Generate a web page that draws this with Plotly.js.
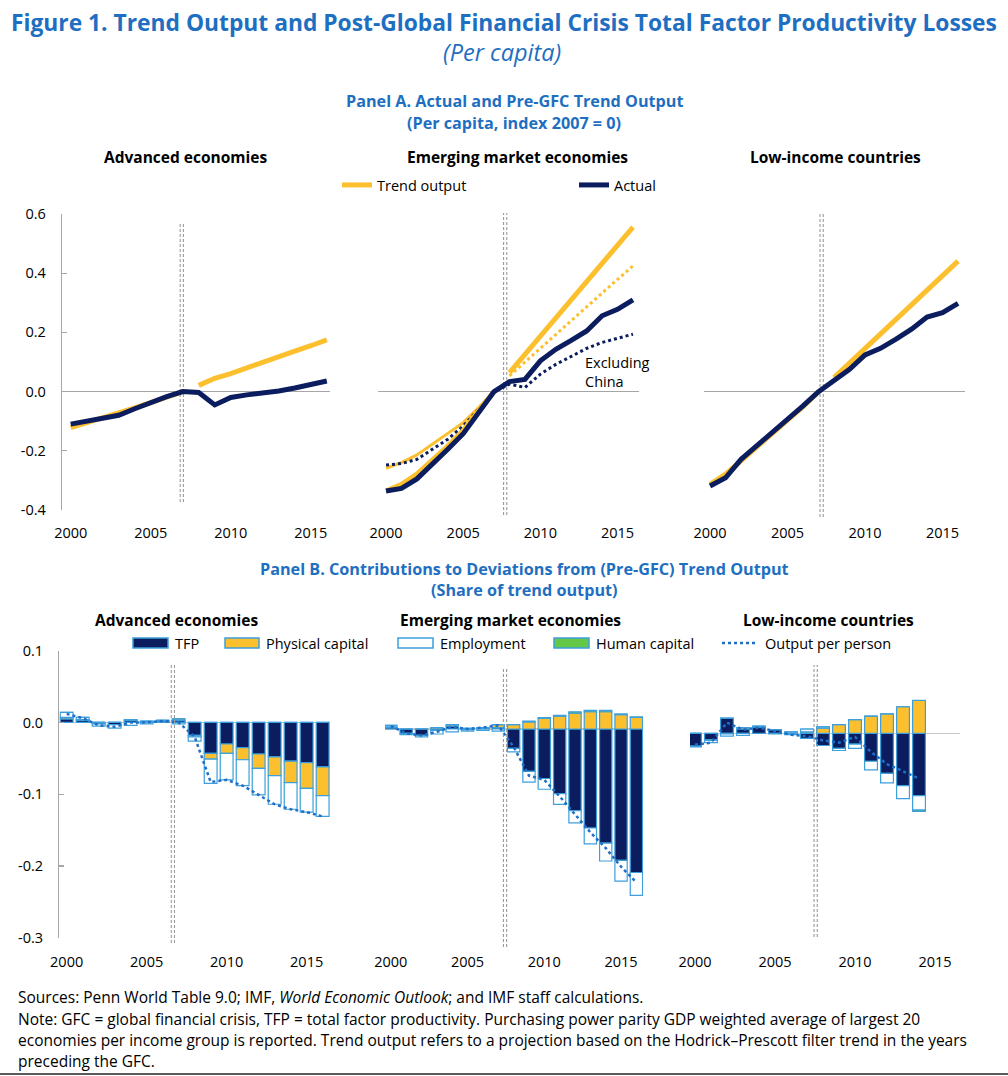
<!DOCTYPE html>
<html><head><meta charset="utf-8">
<script src="https://cdn.plot.ly/plotly-3.0.1.min.js"></script>
<style>html,body{margin:0;padding:0;background:#fff;}#chart{width:1008px;height:1076px;}</style>
</head><body><div id="chart"></div>
<script>
// ---------- DATA ----------
const years = [2000,2001,2002,2003,2004,2005,2006,2007,2008,2009,2010,2011,2012,2013,2014,2015,2016];
const yearsPre = [2000,2001,2002,2003,2004,2005,2006,2007];
const yearsPost = [2008,2009,2010,2011,2012,2013,2014,2015,2016];
const yearsLIC = [2000,2001,2002,2003,2004,2005,2006,2007,2008,2009,2010,2011,2012,2013,2014];
const xTicks = [2000,2005,2010,2015];

// Panel A: Actual and pre-GFC trend output (per capita, index 2007 = 0)
const aeActual = [-0.110,-0.100,-0.093,-0.080,-0.058,-0.037,-0.017,0.000,-0.003,-0.045,-0.020,-0.011,-0.005,0.002,0.012,0.025,0.036];
const aeTrendPre = [-0.122,-0.106,-0.090,-0.073,-0.055,-0.037,-0.018,0.000];
const aeTrendPost = [0.021,0.045,0.061,0.081,0.101,0.118,0.137,0.155,0.175];

const emActual = [-0.336,-0.327,-0.295,-0.246,-0.195,-0.142,-0.071,0.000,0.034,0.041,0.104,0.143,0.173,0.205,0.256,0.278,0.310];
const emTrendPre = [-0.336,-0.313,-0.279,-0.234,-0.184,-0.131,-0.065,0.000];
const emTrendPost = [0.064,0.125,0.187,0.248,0.310,0.371,0.433,0.494,0.556];
const emExChinaActual = [-0.248,-0.243,-0.229,-0.195,-0.161,-0.116,-0.060,0.000,0.025,0.014,0.059,0.092,0.120,0.146,0.166,0.180,0.194];
const emExChinaTrendPre = [-0.259,-0.240,-0.214,-0.178,-0.144,-0.105,-0.054,0.000];
const emExChinaTrendPost = [0.053,0.100,0.146,0.193,0.239,0.286,0.332,0.379,0.425];

const licActual = [-0.319,-0.291,-0.229,-0.184,-0.141,-0.095,-0.048,0.000,0.036,0.075,0.124,0.146,0.177,0.211,0.252,0.267,0.298];
const licTrendPre = [-0.313,-0.279,-0.234,-0.189,-0.144,-0.099,-0.051,0.000];
const licTrendPost = [0.047,0.096,0.146,0.195,0.244,0.293,0.343,0.392,0.441];

// Panel B: contributions to deviations from pre-GFC trend output (share of trend output)
const aeTFP   = [0.005,0.003,-0.002,-0.003,0.003,0.001,0.002,0.003,-0.018,-0.043,-0.030,-0.035,-0.044,-0.048,-0.054,-0.056,-0.062];
const aePhys  = [0.002,0.001,0.000,0.000,0.001,0.001,0.001,0.002,-0.002,-0.008,-0.013,-0.017,-0.020,-0.026,-0.030,-0.036,-0.040];
const aeEmp   = [0.007,0.003,-0.003,-0.005,-0.004,-0.002,0.000,-0.002,-0.006,-0.034,-0.037,-0.036,-0.037,-0.040,-0.037,-0.033,-0.029];
const aeHum   = [0,0,0,0,0,0,0,0,0,0,0,0,0,0,0,0,0];
const aeOut   = [0.012,0.006,-0.004,-0.006,0.000,0.000,0.002,0.000,-0.020,-0.083,-0.080,-0.088,-0.101,-0.114,-0.121,-0.125,-0.131];

const emTFP   = [0.002,-0.006,-0.009,-0.002,0.004,-0.001,0.001,0.002,-0.027,-0.059,-0.069,-0.090,-0.114,-0.138,-0.159,-0.183,-0.200];
const emPhys  = [0.001,0.000,0.000,0.002,0.002,0.001,0.001,0.004,0.006,0.010,0.015,0.018,0.022,0.024,0.024,0.020,0.016];
const emEmp   = [0.002,-0.002,-0.002,-0.005,-0.004,-0.002,-0.002,-0.003,-0.005,-0.015,-0.015,-0.015,-0.017,-0.022,-0.025,-0.029,-0.032];
const emHum   = [0,0,0,0,0,0,0,0,0,0.001,0.001,0.001,0.002,0.002,0.002,0.001,0.001];
const emOut   = [0.004,-0.006,-0.009,-0.004,0.003,0.000,0.002,0.005,-0.025,-0.065,-0.071,-0.094,-0.119,-0.144,-0.166,-0.192,-0.214];

const licTFP  = [-0.018,-0.009,0.021,0.006,0.009,0.005,-0.002,-0.007,-0.017,-0.021,-0.015,-0.039,-0.056,-0.073,-0.087];
const licPhys = [0.000,-0.001,-0.001,0.002,0.000,0.000,0.000,0.002,0.007,0.012,0.019,0.024,0.027,0.037,0.046];
const licEmp  = [-0.001,-0.003,-0.003,-0.003,0.001,-0.001,0.002,0.004,0.002,-0.003,-0.006,-0.012,-0.013,-0.018,-0.020];
const licHum  = [0,0,0,0,0,0,0,0,0,0,0,0,0,0,-0.002];
const licOut  = [-0.016,-0.013,0.015,0.005,0.008,0.003,-0.002,-0.004,-0.010,-0.013,-0.005,-0.026,-0.043,-0.053,-0.063];

const yTicksA = [-0.4,-0.2,0,0.2,0.4,0.6];
const yTextA = ['-0.4','-0.2','0.0','0.2','0.4','0.6'];
const yTicksB = [-0.3,-0.2,-0.1,0,0.1];
const yTextB = ['-0.3','-0.2','-0.1','0.0','0.1'];

const seriesNames = {trend:'Trend output', actual:'Actual', tfp:'TFP', phys:'Physical capital', emp:'Employment', hum:'Human capital', out:'Output per person'};

// ---------- STYLE ----------
const W = 1008, H = 1076;
const fx = p => p / W;
const fy = p => 1 - p / H;
const FONT = '"Open Sans", Lato, "DejaVu Sans", sans-serif';
const BLUE = '#1e6fc1';
const NAVY = '#0b1d5e';
const YEL = '#fcc02e';
const LBLUE = '#3d9fdc';
const DOTBLUE = '#1f6fc8';
const GREEN = '#64c846';
const GRAY = '#a6a6a6';

const traces = [];
function line(x, y, xa, ya, color, width, dash, name, legend) {
  const t = {type:'scatter', mode:'lines', x:x, y:y, xaxis:xa, yaxis:ya,
    line:{color:color, width:width, dash:dash || 'solid'}, hoverinfo:'skip', showlegend:false, name:name};
  if (legend) { t.showlegend = true; t.legend = legend; }
  traces.push(t);
}
// Panel A
line(yearsPre, aeTrendPre, 'x', 'y', YEL, 5, null, seriesNames.trend, 'legend');
line(yearsPost, aeTrendPost, 'x', 'y', YEL, 5, null, seriesNames.trend);
line(years, aeActual, 'x', 'y', NAVY, 5, null, seriesNames.actual, 'legend2');

line(yearsPre, emExChinaTrendPre, 'x2', 'y2', YEL, 3, null, seriesNames.trend);
line(yearsPost, emExChinaTrendPost, 'x2', 'y2', YEL, 3, 'dot', seriesNames.trend);
line(years, emExChinaActual, 'x2', 'y2', NAVY, 3, 'dot', seriesNames.actual);
line(yearsPre, emTrendPre, 'x2', 'y2', YEL, 5, null, seriesNames.trend);
line(yearsPost, emTrendPost, 'x2', 'y2', YEL, 5, null, seriesNames.trend);
line(years, emActual, 'x2', 'y2', NAVY, 5, null, seriesNames.actual);

line(yearsPre, licTrendPre, 'x3', 'y3', YEL, 5, null, seriesNames.trend);
line(yearsPost, licTrendPost, 'x3', 'y3', YEL, 5, null, seriesNames.trend);
line(years, licActual, 'x3', 'y3', NAVY, 5, null, seriesNames.actual);

// Panel B
function bars(x, tfp, phys, emp, hum, out, xa, ya) {
  const mk = (y, fill, name) => ({type:'bar', x:x, y:y, xaxis:xa, yaxis:ya, name:name, showlegend:false,
    hoverinfo:'skip', marker:{color:fill, line:{color:LBLUE, width:1.2}}});
  traces.push(mk(tfp, NAVY, seriesNames.tfp));
  traces.push(mk(phys, YEL, seriesNames.phys));
  traces.push(mk(emp, '#ffffff', seriesNames.emp));
  traces.push(mk(hum, GREEN, seriesNames.hum));
  traces.push({type:'scatter', mode:'lines', x:x, y:out, xaxis:xa, yaxis:ya, name:seriesNames.out,
    showlegend:false, hoverinfo:'skip', line:{color:DOTBLUE, width:2.5, dash:'dot'}});
}
bars(years, aeTFP, aePhys, aeEmp, aeHum, aeOut, 'x4', 'y4');
bars(years, emTFP, emPhys, emEmp, emHum, emOut, 'x5', 'y5');
bars(yearsLIC, licTFP, licPhys, licEmp, licHum, licOut, 'x6', 'y6');

// axes
const tickFont = {family:FONT, size:14.5, color:'#000'};
function xaxis(d0, d1, r0, r1, anchor, standoff) {
  return {domain:[fx(d0), fx(d1)], range:[r0, r1], anchor:anchor, tickvals:xTicks,
    showgrid:false, zeroline:false, showline:false, ticks:'', tickfont:tickFont,
    ticklabelstandoff:standoff, fixedrange:true};
}
function yaxis(d0, d1, r0, r1, anchor, shown, tv, tt, zc) {
  const a = {domain:[fy(d1), fy(d0)], range:[r0, r1], anchor:anchor, showgrid:false,
    zeroline:true, zerolinecolor:zc, zerolinewidth:1.3, fixedrange:true, tickfont:tickFont};
  if (shown) {
    Object.assign(a, {tickvals:tv, ticktext:tt, showline:true, linecolor:GRAY, linewidth:1.3,
      ticks:'inside', ticklen:5, tickcolor:GRAY, tickwidth:1.3, ticklabelstandoff:12});
  } else {
    Object.assign(a, {showline:false, ticks:'', showticklabels:false});
  }
  return a;
}
const A0 = 214, A1 = 510, B0 = 650.7, B1 = 937.7;

// shapes: double dotted GFC lines
const shapes = [];
function gfc(xref, xv, p0, p1, layer) {
  [-1.6, 1.6].forEach(off => shapes.push({type:'line', xref:xref, yref:'paper', xsizemode:'pixel',
    xanchor:xv, x0:off, x1:off, y0:fy(p1), y1:fy(p0), layer:layer,
    line:{color:'#9a9a9a', width:1.1, dash:'3px,2px'}}));
}
gfc('x', 2006.94, 222, 502, 'below');
gfc('x2', 2007.72, 213, 515, 'below');
gfc('x3', 2007.2, 212, 517, 'below');
gfc('x4', 2006.64, 663, 943, 'above');
gfc('x5', 2007.44, 667, 947, 'above');
gfc('x6', 2007.54, 665, 937, 'above');

// Panel B legend swatches
const annotations = [];
function ann(text, x, y, size, opts) {
  annotations.push(Object.assign({text:text, x:fx(x), y:fy(y), xref:'paper', yref:'paper',
    showarrow:false, xanchor:'center', yanchor:'middle',
    font:{family:FONT, size:size, color:'#000'}}, opts || {}));
}
const legB = [
  {x0:133, x1:168, tx:173, fill:NAVY, name:seriesNames.tfp},
  {x0:225, x1:259, tx:264, fill:YEL, name:seriesNames.phys},
  {x0:398, x1:433, tx:438, fill:'#ffffff', name:seriesNames.emp},
  {x0:554, x1:589, tx:594, fill:GREEN, name:seriesNames.hum}
];
legB.forEach(l => {
  shapes.push({type:'rect', xref:'paper', yref:'paper', x0:fx(l.x0), x1:fx(l.x1), y0:fy(648), y1:fy(638),
    fillcolor:l.fill, line:{color:LBLUE, width:1.5}});
  ann(l.name, l.tx, 643, 14.5, {xanchor:'left'});
});
shapes.push({type:'line', xref:'paper', yref:'paper', x0:fx(722), x1:fx(756), y0:fy(643), y1:fy(643),
  line:{color:DOTBLUE, width:2.5, dash:'dot'}});
ann(seriesNames.out, 763, 643, 14.5, {xanchor:'left'});

// bottom rule
shapes.push({type:'line', xref:'paper', yref:'paper', x0:0, x1:1, y0:fy(1074), y1:fy(1074),
  line:{color:'#222', width:1.5}});

// titles & text
const blueFont = s => ({family:FONT, size:s, color:BLUE});
ann('<b>Figure 1. Trend Output and Post-Global Financial Crisis Total Factor Productivity Losses</b>', 504, 22, 22.8, {font:blueFont(22.8)});
ann('<i>(Per capita)</i>', 502, 52, 23.5, {font:blueFont(23.5)});
ann('<b>Panel A. Actual and Pre-GFC Trend Output</b>', 514, 101, 16.2, {font:blueFont(16.2)});
ann('<b>(Per capita, index 2007 = 0)</b>', 514, 123, 16.2, {font:blueFont(16.2)});
ann('<b>Advanced economies</b>', 185, 157, 15.5);
ann('<b>Emerging market economies</b>', 517, 157, 15.5);
ann('<b>Low-income countries</b>', 835, 157, 15.5);
ann('Excluding<br>China', 583, 372, 14.5, {xanchor:'left', align:'left'});
ann('<b>Panel B. Contributions to Deviations from (Pre-GFC) Trend Output</b>', 524, 569, 16.2, {font:blueFont(16.2)});
ann('<b>(Share of trend output)</b>', 524, 590, 16.2, {font:blueFont(16.2)});
ann('<b>Advanced economies</b>', 176, 620, 15.5);
ann('<b>Emerging market economies</b>', 510, 620, 15.5);
ann('<b>Low-income countries</b>', 828, 620, 15.5);
ann('Sources: Penn World Table 9.0; IMF, <i>World Economic Outlook</i>; and IMF staff calculations.', 16, 997, 15.5, {xanchor:'left'});
ann('Note: GFC = global financial crisis, TFP = total factor productivity. Purchasing power parity GDP weighted average of largest 20', 16, 1019, 15.5, {xanchor:'left'});
ann('economies per income group is reported. Trend output refers to a projection based on the Hodrick–Prescott filter trend in the years', 16, 1040, 15.5, {xanchor:'left'});
ann('preceding the GFC.', 16, 1061, 15.5, {xanchor:'left'});

const legFont = {family:FONT, size:14.5, color:'#000'};
const layout = {
  width:W, height:H, margin:{l:0, r:0, t:0, b:0}, paper_bgcolor:'#fff', plot_bgcolor:'rgba(0,0,0,0)',
  font:{family:FONT}, barmode:'relative', bargap:0.2, hovermode:false,
  legend:{x:fx(337), xanchor:'left', y:fy(185), yanchor:'middle', orientation:'h', font:legFont, bgcolor:'rgba(0,0,0,0)', itemwidth:30},
  legend2:{x:fx(574), xanchor:'left', y:fy(185), yanchor:'middle', orientation:'h', font:legFont, bgcolor:'rgba(0,0,0,0)', itemwidth:30},
  xaxis: xaxis(62, 330, 1999.456, 2016.2, 'y', 12),
  yaxis: yaxis(A0, A1, -0.4, 0.6, 'x', true, yTicksA, yTextA, GRAY),
  xaxis2: xaxis(378, 639, 1999.48, 2016.39, 'y2', 12),
  yaxis2: yaxis(A0, A1, -0.4, 0.6, 'x2', false, null, null, GRAY),
  xaxis3: xaxis(704, 965, 1999.61, 2016.45, 'y3', 12),
  yaxis3: yaxis(A0, A1, -0.4, 0.6, 'x3', false, null, null, GRAY),
  xaxis4: xaxis(59.3, 330, 1999.54, 2016.46, 'y4', 14),
  yaxis4: yaxis(B0, B1, -0.3, 0.1, 'x4', true, yTicksB, yTextB, '#c8c8c8'),
  xaxis5: xaxis(385, 643, 1999.62, 2016.43, 'y5', 14),
  yaxis5: yaxis(B0, B1, -0.2909, 0.1091, 'x5', false, null, null, '#c8c8c8'),
  xaxis6: xaxis(690, 960, 1999.69, 2016.56, 'y6', 14),
  yaxis6: yaxis(B0, B1, -0.2849, 0.1151, 'x6', false, null, null, '#c8c8c8'),
  shapes:shapes, annotations:annotations
};
Plotly.newPlot('chart', traces, layout, {staticPlot:true, displayModeBar:false});
</script>
</body></html>
